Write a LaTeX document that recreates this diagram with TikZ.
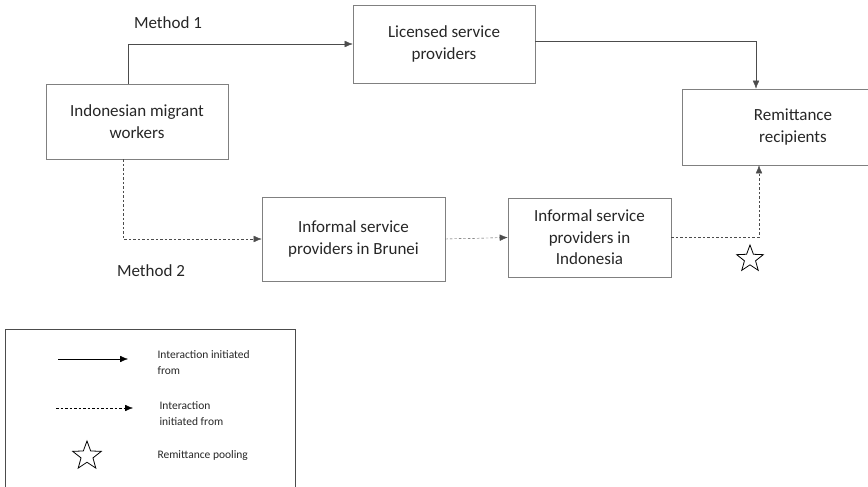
\documentclass[tikz,border=0pt]{standalone}
\usepackage{fontspec}
\setmainfont{Carlito}
\usetikzlibrary{arrows.meta,shapes.geometric}
\definecolor{linegray}{rgb}{0.3,0.3,0.3}
\definecolor{boxgray}{rgb}{0.5,0.5,0.5}
\definecolor{textgray}{rgb}{0.15,0.15,0.15}
\tikzset{
    box/.style={draw=boxgray, semithick, align=center, text=textgray,
        font=\fontsize{17}{21.5}\selectfont, inner sep=0pt},
    lbl/.style={text=textgray, font=\fontsize{17}{21}\selectfont},
    keytext/.style={text=textgray, anchor=west, align=left,
        font=\fontsize{11.5}{16}\selectfont},
    flow/.style={draw=linegray, thin, -{Latex[length=8pt,width=6.5pt]}},
    informal/.style={flow, dash pattern=on 2.5pt off 2pt},
    pool/.style={draw=black, thick, star, star points=5,
        star point ratio=2.4, minimum size=28pt, inner sep=0pt},
}
\begin{document}
\begin{tikzpicture}[x=1pt,y=-1pt]
\useasboundingbox (0,0) rectangle (868,487);
% boxes
\node[box, minimum width=182pt, minimum height=75pt] (workers) at (137,121.5) {Indonesian migrant\\workers};
\node[box, minimum width=182pt, minimum height=78pt] (licensed) at (444,44) {Licensed service\\providers};
\node[box, minimum width=222pt, minimum height=76pt] (recip) at (793,127) {Remittance\\recipients};
\node[box, minimum width=183pt, minimum height=84pt] (brunei) at (353.5,239) {Informal service\\providers in Brunei};
\node[box, minimum width=163pt, minimum height=79pt] (indo) at (589.5,237.5) {Informal service\\providers in\\Indonesia};
% labels
\node[lbl] (m1) at (168,23) {Method 1};
\node[lbl] (m2) at (151,271) {Method 2};
\node[pool] (pstar) at (750,259) {};
% method 1
\draw[flow] ([xshift=-9pt]workers.north) |- (licensed.west);
\draw[flow] ([yshift=3pt]licensed.east) -| ([xshift=-37pt]recip.north);
% method 2
\draw[informal] ([xshift=-14pt]workers.south) |- (brunei.west);
\draw[informal] (brunei.east) -- (indo.west);
\draw[informal] ([yshift=0.5pt]indo.east) -| ([xshift=-34pt]recip.south);
% key
\draw[draw=linegray, semithick] (5,329) rectangle (295,495);
\coordinate (k1a) at (58,359);
\coordinate (k1b) at (128,359);
\coordinate (k2a) at (56,408);
\coordinate (k2b) at (133,408);
\draw[flow, draw=black] (k1a) -- (k1b);
\draw[informal, draw=black] (k2a) -- (k2b);
\node[pool, minimum size=30pt] (kstar) at (87,456) {};
\node[keytext] (t1) at (154,363) {Interaction initiated\\from};
\node[keytext] (t2) at (156,414) {Interaction\\initiated from};
\node[keytext] (t3) at (154,455) {Remittance pooling};
\end{tikzpicture}
\end{document}
